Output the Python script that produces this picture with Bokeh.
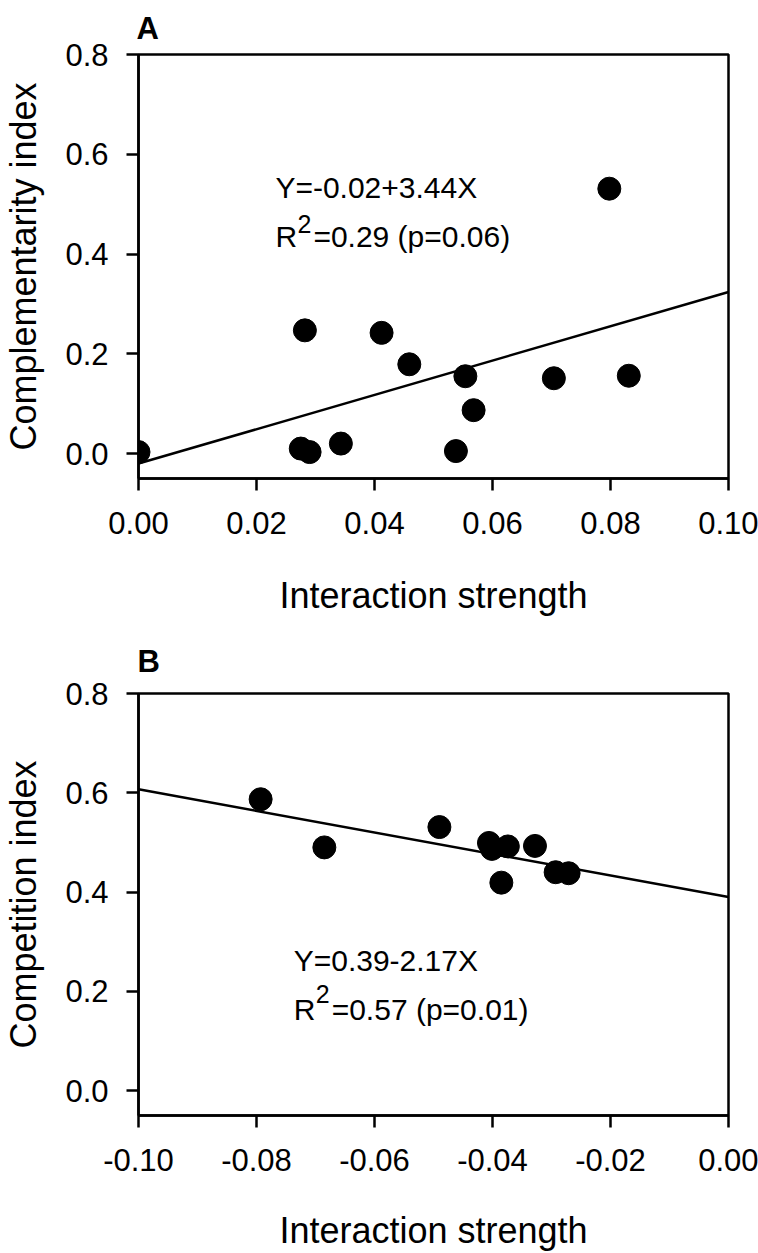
from bokeh.plotting import figure
from bokeh.layouts import column
from bokeh.models import Range1d, FixedTicker, PrintfTickFormatter, Label, Title
from bokeh.embed import file_html
from bokeh.resources import INLINE

# ---- data ----
a_x = [0.000, 0.0275, 0.0282, 0.0290, 0.0343, 0.0412, 0.0459, 0.0538, 0.0554, 0.0568, 0.0704, 0.0798, 0.0831]
a_y = [0.003, 0.010, 0.247, 0.003, 0.020, 0.242, 0.179, 0.005, 0.155, 0.087, 0.151, 0.531, 0.156]
a_intercept = -0.02
a_slope = 3.44

b_x = [-0.0793, -0.0685, -0.0490, -0.0406, -0.0401, -0.0374, -0.0385, -0.0328, -0.0293, -0.0271]
b_y = [0.587, 0.490, 0.531, 0.499, 0.487, 0.492, 0.419, 0.493, 0.440, 0.438]
b_intercept = 0.39
b_slope = -2.17

a_xticks = [0.00, 0.02, 0.04, 0.06, 0.08, 0.10]
b_xticks = [-0.10, -0.08, -0.06, -0.04, -0.02, 0.00]
yticks = [0.0, 0.2, 0.4, 0.6, 0.8]

a_xlim = (0.0, 0.10)
b_xlim = (-0.10, 0.0)
ylim = (-0.05, 0.8)

FONT = "Liberation Sans"


def style(p, xticks, xlabel_standoff):
    p.xgrid.visible = False
    p.ygrid.visible = False
    p.outline_line_color = "black"
    p.outline_line_width = 2.5
    p.outline_line_alpha = 1.0
    p.background_fill_color = "white"
    p.border_fill_color = "white"
    p.xaxis.ticker = FixedTicker(ticks=xticks)
    p.yaxis.ticker = FixedTicker(ticks=yticks)
    p.xaxis.formatter = PrintfTickFormatter(format="%.2f")
    p.yaxis.formatter = PrintfTickFormatter(format="%.1f")
    for ax in (p.xaxis, p.yaxis):
        ax.axis_line_width = 2.5
        ax.axis_line_color = "black"
        ax.major_tick_line_width = 2.5
        ax.major_tick_line_color = "black"
        ax.major_tick_out = 12
        ax.major_tick_in = 0
        ax.minor_tick_line_color = None
        ax.major_label_text_font = FONT
        ax.major_label_text_font_size = "31px"
        ax.major_label_text_color = "black"
        ax.axis_label_text_font = FONT
        ax.axis_label_text_font_size = "36px"
        ax.axis_label_text_font_style = "normal"
        ax.axis_label_text_color = "black"
    p.xaxis.major_label_standoff = 21
    p.yaxis.major_label_standoff = 18
    p.xaxis.axis_label_standoff = xlabel_standoff
    p.yaxis.axis_label_standoff = 18


def txt(p, x, y, text, size="30px", xo=0):
    p.add_layout(Label(x=x, y=y, x_offset=xo, text=text, text_font=FONT,
                       text_font_size=size, text_color="black",
                       text_baseline="alphabetic", text_align="left"))


def panel_title(p, text, standoff, offset):
    p.add_layout(Title(text=text, align="left", vertical_align="top", text_font=FONT,
                       text_font_size="31px", text_font_style="bold", text_color="black",
                       standoff=standoff, offset=offset), "above")


# ---- panel A ----
pa = figure(width=758, height=618, output_backend="svg", toolbar_location=None,
            x_range=Range1d(*a_xlim), y_range=Range1d(*ylim),
            min_border_left=138, min_border_right=30, min_border_top=54, min_border_bottom=140,
            x_axis_label="Interaction strength", y_axis_label="Complementarity index")
style(pa, a_xticks, 38)
panel_title(pa, "A", 14, -2)
pa.line(list(a_xlim), [a_intercept + a_slope * v for v in a_xlim], line_color="black", line_width=2.5)
pa.scatter(a_x, a_y, size=23, color="black")
txt(pa, 0.0232, 0.534, "Y=-0.02+3.44X")
txt(pa, 0.0232, 0.436, "R")
txt(pa, 0.0232, 0.460, "2", size="25px", xo=22)
txt(pa, 0.0232, 0.436, "=0.29 (p=0.06)", xo=38)

# ---- panel B ----
pb = figure(width=758, height=635, output_backend="svg", toolbar_location=None,
            x_range=Range1d(*b_xlim), y_range=Range1d(*ylim),
            min_border_left=138, min_border_right=30, min_border_top=75, min_border_bottom=136,
            x_axis_label="Interaction strength", y_axis_label="Competition index")
style(pb, b_xticks, 36)
panel_title(pb, "B", 26, -1)
pb.line(list(b_xlim), [b_intercept + b_slope * v for v in b_xlim], line_color="black", line_width=2.5)
pb.scatter(b_x, b_y, size=23, color="black")
txt(pb, -0.0737, 0.262, "Y=0.39-2.17X")
txt(pb, -0.0737, 0.164, "R")
txt(pb, -0.0737, 0.194, "2", size="25px", xo=22)
txt(pb, -0.0737, 0.164, "=0.57 (p=0.01)", xo=38)

p = column(pa, pb)
open("out.html", "w").write(file_html(p, INLINE))
